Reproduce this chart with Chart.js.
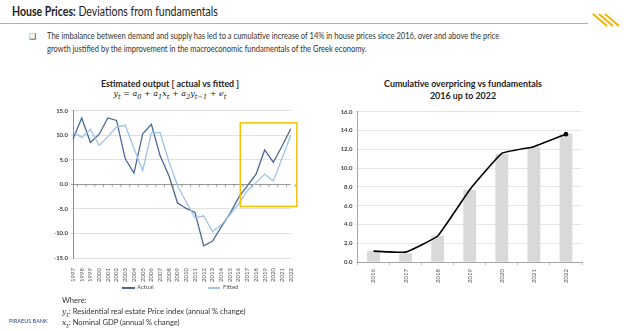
<!DOCTYPE html>
<html>
<head>
<meta charset="utf-8">
<script src="https://cdn.jsdelivr.net/npm/chart.js@4/dist/chart.umd.min.js"></script>
<style>
  body { margin:0; width:624px; height:331px; background:#fff; position:relative; overflow:hidden; font-family:"Lato",sans-serif; color:#222; }
  .abs { position:absolute; white-space:nowrap; }
  #head { left:12px; top:3px; font-size:13.5px; transform:scaleX(0.78); transform-origin:left top; }
  #rule { left:0; top:23px; width:588px; height:1px; background:#f0b400; }
  .body { left:47px; font-size:8.7px; color:#333; transform:scaleX(0.87); transform-origin:left top; }
  .ctitle { font-family:"Lato",sans-serif; font-weight:bold; font-size:8.9px; text-align:center; color:#222; }
  .formula { font-family:"DejaVu Serif",serif; font-style:italic; font-size:8px; }
  .foot { left:62px; font-family:"Lato",sans-serif; font-size:7.6px; color:#333; }
  .leg { font-family:"Lato",sans-serif; font-size:6px; color:#555; }
  .legline { position:absolute; height:1.5px; }
</style>
</head>
<body>
<div class="abs" id="head"><b>House Prices:</b> Deviations from fundamentals</div>
<div class="abs" id="rule"></div>
<svg class="abs" style="left:590px;top:10px" width="34" height="22">
  <g stroke="#f0b400" stroke-width="2">
    <line x1="3" y1="4" x2="17" y2="16"/>
    <line x1="9" y1="4" x2="23" y2="16"/>
    <line x1="15" y1="4" x2="29" y2="16"/>
  </g>
</svg>
<div class="abs" style="left:29px;top:31px;font-size:8px;color:#333;">&#10065;</div>
<div class="abs body" style="top:30px;">The imbalance between demand and supply has led to a cumulative increase of 14% in house prices since 2016, over and above the price</div>
<div class="abs body" style="top:43px;">growth justified by the improvement in the macroeconomic fundamentals of the Greek economy.</div>

<div class="abs ctitle" style="left:80px;top:78px;width:180px;">Estimated output [ actual vs fitted ]</div>
<div class="abs formula" style="left:80px;top:89px;width:180px;text-align:center;">y<sub>t</sub> = a<sub>0</sub> + a<sub>1</sub>x<sub>t</sub> + a<sub>2</sub>y<sub>t&minus;1</sub> + e<sub>t</sub></div>

<div class="abs ctitle" style="left:373px;top:78px;width:180px;line-height:12px;">Cumulative overpricing vs fundamentals<br>2016 up to 2022</div>

<div style="position:absolute;left:52px;top:104px;width:248px;height:180px;"><canvas id="left"></canvas></div>
<div style="position:absolute;left:333px;top:105px;width:257px;height:182px;"><canvas id="right"></canvas></div>

<div class="legline" style="left:122px;top:287px;width:13px;background:#4a6795;"></div>
<div class="abs leg" style="left:137px;top:283px;">Actual</div>
<div class="legline" style="left:208px;top:287px;width:12px;background:#9dc3e6;"></div>
<div class="abs leg" style="left:223px;top:283px;">Fitted</div>

<div class="abs foot" style="top:295px;">Where:</div>
<div class="abs foot" style="top:306px;"><i style="font-family:'DejaVu Serif',serif">y<sub>t</sub></i>: Residential real estate Price index (annual % change)</div>
<div class="abs foot" style="top:317px;"><i style="font-family:'DejaVu Serif',serif">x<sub>t</sub></i>: Nominal GDP (annual % change)</div>
<div class="abs" style="left:9px;top:318px;font-family:'Lato',sans-serif;font-size:5.5px;color:#2b4a8f;">PIRAEUS BANK</div>

<script>
const years = ['1997','1998','1999','2000','2001','2002','2003','2004','2005','2006','2007','2008','2009',
  '2010','2011','2012','2013','2014','2015','2016','2017','2018','2019','2020','2021','2022'];
const actual = [9.2,13.5,8.5,10.2,13.5,13.0,5.2,2.3,10.3,12.2,5.8,1.8,-3.8,
  -4.9,-5.7,-12.5,-11.6,-8.7,-6.0,-2.7,-0.3,2.0,7.0,4.5,7.8,11.3];
const fitted = [10.7,9.5,11.2,7.9,9.7,11.7,12.0,7.3,2.8,10.5,10.5,4.7,-0.3,
  -3.6,-6.8,-6.4,-9.6,-8.3,-6.2,-4.0,-1.3,0.3,2.1,0.7,5.3,10.0];
const highlightFrom = '2016';
const highlightTo = '2022';
const highlightTop = 12.5;
const highlightBottom = -4.5;

const cumYears = ['2016','2017','2018','2019','2020','2021','2022'];
const cumBars = [1.15,0.95,2.8,7.7,11.5,12.2,13.65];
const cumLine = [1.17,1.06,2.77,7.7,11.56,12.27,13.6];

const tickFont = {family:'Lato', size:6};
const tickFontBold = {family:'Lato', size:6, weight:'bold'};

// yellow frame + small ticks on the zero line
const leftExtras = {
    id:'leftExtras',
    afterDatasetsDraw(chart) {
        let
            ctx=chart.ctx,
            x=chart.scales.x,
            y=chart.scales.y,
            step=x.getPixelForValue(1)-x.getPixelForValue(0),
            y0=y.getPixelForValue(0);
        ctx.save();
        ctx.strokeStyle='#7f7f7f';
        ctx.lineWidth=0.8;
        for (let i=1;i<=years.length;i++) {
            let px=x.getPixelForValue(i)-step/2;
            ctx.beginPath();
            ctx.moveTo(px,y0);
            ctx.lineTo(px,y0+2.5);
            ctx.stroke();
        }
        let
            l=x.getPixelForValue(years.indexOf(highlightFrom))+step*0.2,
            r=x.getPixelForValue(years.indexOf(highlightTo))+step*0.7,
            t=y.getPixelForValue(highlightTop),
            b=y.getPixelForValue(highlightBottom);
        ctx.strokeStyle='#f5c000';
        ctx.lineWidth=1.5;
        ctx.strokeRect(l,t,r-l,b-t);
        ctx.restore();
    }
};

new Chart(document.getElementById('left'), {
    type:'line',
    data:{
        labels:years,
        datasets:[
            {label:'Fitted', data:fitted, borderColor:'#9dc3e6', borderWidth:1.3, pointRadius:0, tension:0},
            {label:'Actual', data:actual, borderColor:'#4a6795', borderWidth:1.3, pointRadius:0, tension:0}
        ]
    },
    options:{
        responsive:true, maintainAspectRatio:false, animation:false,
        layout:{padding:{top:2, right:6, left:0, bottom:0}},
        plugins:{legend:{display:false}, tooltip:{enabled:false}},
        scales:{
            x:{
                grid:{display:false},
                border:{display:false},
                ticks:{font:tickFont, color:'#595959', minRotation:90, maxRotation:90, autoSkip:false, padding:2}
            },
            y:{
                min:-15, max:15,
                afterFit(s){ s.width=21; },
                ticks:{stepSize:5, font:tickFontBold, color:'#404040', padding:3, callback:v=>v.toFixed(1)},
                grid:{color:c=>c.tick && c.tick.value===0 ? '#7f7f7f' : '#d9d9d9', lineWidth:0.8, tickLength:2},
                border:{color:'#8c8c8c', width:1}
            }
        }
    },
    plugins:[leftExtras]
});

new Chart(document.getElementById('right'), {
    data:{
        labels:cumYears,
        datasets:[
            {type:'line', data:cumLine, borderColor:'#000', borderWidth:1.6, tension:0.1,
             pointRadius:cumLine.map((v,i)=>i===cumLine.length-1 ? 2.3 : 0), pointBackgroundColor:'#000', pointBorderWidth:0},
            {type:'bar', data:cumBars, backgroundColor:'#d9d9d9', barPercentage:0.4, categoryPercentage:1}
        ]
    },
    options:{
        responsive:true, maintainAspectRatio:false, animation:false,
        layout:{padding:{top:2, right:8, left:0, bottom:0}},
        plugins:{legend:{display:false}, tooltip:{enabled:false}},
        scales:{
            x:{
                grid:{display:true, drawOnChartArea:false, tickLength:3, color:'#bfbfbf', offset:true},
                border:{color:'#a6a6a6'},
                ticks:{font:tickFont, color:'#595959', minRotation:90, maxRotation:90, padding:4}
            },
            y:{
                min:0, max:16,
                afterFit(s){ s.width=24.5; },
                ticks:{stepSize:2, font:tickFontBold, color:'#404040', padding:3, callback:v=>v.toFixed(1)},
                grid:{color:'#e0e0e0', lineWidth:0.8, tickLength:2},
                border:{color:'#a6a6a6'}
            }
        }
    }
});
</script>
</body>
</html>
